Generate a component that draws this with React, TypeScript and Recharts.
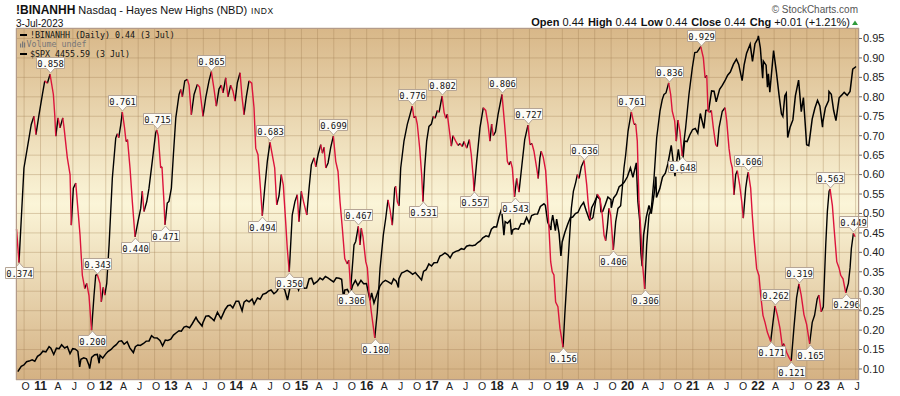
import React from "react";
import { ComposedChart, Line, XAxis, YAxis, CartesianGrid } from "recharts";

// !BINANHH swings: [decimal year, value]
const hayesPoints: [number, number][] = [
  [2010.632, 0.46], [2010.67, 0.374], [2010.746, 0.617], [2010.823, 0.694], [2010.858, 0.729], [2010.899, 0.75], [2010.93, 0.703], [2010.977, 0.754],
  [2011.029, 0.806], [2011.065, 0.841], [2011.105, 0.835], [2011.146, 0.858], [2011.197, 0.806], [2011.218, 0.754], [2011.234, 0.699], [2011.269, 0.746],
  [2011.299, 0.72], [2011.341, 0.746], [2011.361, 0.72], [2011.411, 0.643], [2011.453, 0.6], [2011.472, 0.47], [2011.503, 0.565], [2011.54, 0.578],
  [2011.606, 0.444], [2011.641, 0.341], [2011.678, 0.307], [2011.708, 0.32], [2011.743, 0.289], [2011.782, 0.2], [2011.82, 0.289], [2011.846, 0.341],
  [2011.87, 0.343], [2011.912, 0.32], [2011.932, 0.273], [2011.962, 0.31], [2011.985, 0.29], [2012.015, 0.32], [2012.051, 0.419], [2012.101, 0.591],
  [2012.153, 0.694], [2012.178, 0.705], [2012.199, 0.695], [2012.23, 0.728], [2012.254, 0.761], [2012.288, 0.72], [2012.311, 0.685], [2012.334, 0.69],
  [2012.372, 0.617], [2012.407, 0.531], [2012.449, 0.44], [2012.494, 0.479], [2012.536, 0.513], [2012.56, 0.557], [2012.586, 0.505], [2012.628, 0.53],
  [2012.663, 0.565], [2012.713, 0.634], [2012.765, 0.707], [2012.781, 0.715], [2012.805, 0.7], [2012.842, 0.617], [2012.862, 0.62], [2012.892, 0.531],
  [2012.908, 0.471], [2012.943, 0.527], [2012.969, 0.531], [2013.006, 0.565], [2013.037, 0.651], [2013.074, 0.746], [2013.124, 0.806], [2013.15, 0.819],
  [2013.174, 0.8], [2013.211, 0.841], [2013.251, 0.845], [2013.277, 0.83], [2013.312, 0.754], [2013.354, 0.806], [2013.404, 0.832], [2013.438, 0.825],
  [2013.491, 0.75], [2013.533, 0.798], [2013.583, 0.841], [2013.619, 0.865], [2013.66, 0.82], [2013.695, 0.776], [2013.736, 0.82], [2013.771, 0.83],
  [2013.798, 0.81], [2013.839, 0.849], [2013.874, 0.8], [2013.915, 0.83], [2013.95, 0.815], [2013.982, 0.789], [2014.017, 0.836], [2014.059, 0.862],
  [2014.089, 0.8], [2014.12, 0.754], [2014.155, 0.8], [2014.196, 0.841], [2014.238, 0.835], [2014.273, 0.772], [2014.299, 0.668], [2014.334, 0.651],
  [2014.375, 0.557], [2014.4, 0.494], [2014.437, 0.565], [2014.477, 0.634], [2014.518, 0.683], [2014.553, 0.651], [2014.59, 0.617], [2014.621, 0.522],
  [2014.656, 0.545], [2014.691, 0.6], [2014.722, 0.573], [2014.758, 0.479], [2014.783, 0.41], [2014.813, 0.35], [2014.859, 0.496], [2014.901, 0.531],
  [2014.936, 0.548], [2014.962, 0.479], [2014.999, 0.557], [2015.033, 0.53], [2015.082, 0.496], [2015.117, 0.565], [2015.152, 0.625], [2015.194, 0.643],
  [2015.22, 0.62], [2015.255, 0.651], [2015.296, 0.677], [2015.321, 0.655], [2015.347, 0.67], [2015.373, 0.617], [2015.408, 0.63], [2015.449, 0.67],
  [2015.489, 0.699], [2015.526, 0.634], [2015.561, 0.608], [2015.591, 0.531], [2015.627, 0.462], [2015.664, 0.384], [2015.703, 0.37], [2015.725, 0.38],
  [2015.755, 0.306], [2015.806, 0.419], [2015.832, 0.428], [2015.872, 0.467], [2015.898, 0.419], [2015.918, 0.462], [2015.944, 0.44], [2015.986, 0.376],
  [2016.011, 0.36], [2016.036, 0.298], [2016.072, 0.246], [2016.124, 0.18], [2016.163, 0.246], [2016.205, 0.358], [2016.255, 0.444], [2016.292, 0.487],
  [2016.327, 0.535], [2016.358, 0.51], [2016.393, 0.47], [2016.43, 0.565], [2016.445, 0.57], [2016.47, 0.53], [2016.496, 0.52], [2016.522, 0.617],
  [2016.572, 0.686], [2016.623, 0.729], [2016.664, 0.754], [2016.699, 0.776], [2016.725, 0.746], [2016.751, 0.75], [2016.776, 0.73], [2016.813, 0.668],
  [2016.843, 0.6], [2016.863, 0.531], [2016.889, 0.617], [2016.92, 0.686], [2016.955, 0.724], [2016.992, 0.73], [2017.023, 0.75], [2017.049, 0.745],
  [2017.084, 0.765], [2017.11, 0.76], [2017.156, 0.802], [2017.187, 0.76], [2017.213, 0.745], [2017.237, 0.755], [2017.263, 0.72], [2017.298, 0.673],
  [2017.324, 0.7], [2017.365, 0.686], [2017.401, 0.675], [2017.431, 0.68], [2017.466, 0.672], [2017.492, 0.685], [2017.534, 0.668], [2017.574, 0.69],
  [2017.604, 0.651], [2017.635, 0.59], [2017.646, 0.557], [2017.687, 0.634], [2017.737, 0.72], [2017.788, 0.772], [2017.825, 0.765], [2017.86, 0.73],
  [2017.89, 0.686], [2017.916, 0.73], [2017.941, 0.7], [2017.975, 0.71], [2018.014, 0.754], [2018.044, 0.78], [2018.075, 0.806], [2018.106, 0.746],
  [2018.132, 0.694], [2018.157, 0.634], [2018.182, 0.625], [2018.208, 0.634], [2018.233, 0.617], [2018.267, 0.543], [2018.3, 0.59], [2018.335, 0.555],
  [2018.386, 0.634], [2018.423, 0.69], [2018.473, 0.727], [2018.504, 0.677], [2018.534, 0.68], [2018.565, 0.66], [2018.606, 0.617], [2018.63, 0.59],
  [2018.656, 0.643], [2018.676, 0.66], [2018.707, 0.645], [2018.744, 0.61], [2018.768, 0.548], [2018.795, 0.462], [2018.821, 0.376], [2018.845, 0.35],
  [2018.871, 0.342], [2018.897, 0.272], [2018.932, 0.26], [2018.963, 0.205], [2019.011, 0.156], [2019.037, 0.238], [2019.068, 0.324], [2019.103, 0.419],
  [2019.138, 0.513], [2019.169, 0.557], [2019.205, 0.58], [2019.23, 0.6], [2019.256, 0.59], [2019.291, 0.62], [2019.333, 0.636], [2019.374, 0.573],
  [2019.394, 0.531], [2019.42, 0.488], [2019.444, 0.485], [2019.47, 0.49], [2019.511, 0.531], [2019.536, 0.55], [2019.577, 0.539], [2019.612, 0.496],
  [2019.639, 0.444], [2019.664, 0.43], [2019.689, 0.465], [2019.715, 0.513], [2019.741, 0.496], [2019.781, 0.406], [2019.818, 0.479], [2019.853, 0.513],
  [2019.894, 0.52], [2019.919, 0.565], [2019.945, 0.617], [2019.971, 0.651], [2020.007, 0.711], [2020.058, 0.761], [2020.099, 0.729], [2020.125, 0.73],
  [2020.149, 0.686], [2020.175, 0.531], [2020.201, 0.462], [2020.226, 0.376], [2020.263, 0.306], [2020.293, 0.419], [2020.328, 0.496], [2020.364, 0.513],
  [2020.405, 0.59], [2020.446, 0.694], [2020.497, 0.763], [2020.532, 0.793], [2020.558, 0.806], [2020.589, 0.81], [2020.63, 0.836], [2020.661, 0.806],
  [2020.685, 0.763], [2020.722, 0.738], [2020.747, 0.686], [2020.773, 0.74], [2020.803, 0.71], [2020.838, 0.648], [2020.89, 0.72], [2020.941, 0.806],
  [2020.993, 0.875], [2021.03, 0.914], [2021.065, 0.915], [2021.122, 0.929], [2021.162, 0.9], [2021.188, 0.849], [2021.214, 0.855], [2021.233, 0.763],
  [2021.259, 0.76], [2021.284, 0.765], [2021.315, 0.72], [2021.351, 0.677], [2021.376, 0.672], [2021.402, 0.72], [2021.452, 0.763], [2021.494, 0.772],
  [2021.52, 0.738], [2021.555, 0.668], [2021.581, 0.634], [2021.606, 0.617], [2021.632, 0.548], [2021.658, 0.6], [2021.682, 0.61], [2021.719, 0.573],
  [2021.75, 0.531], [2021.774, 0.488], [2021.811, 0.565], [2021.836, 0.595], [2021.851, 0.606], [2021.887, 0.565], [2021.912, 0.496], [2021.938, 0.436],
  [2021.979, 0.358], [2022.015, 0.34], [2022.041, 0.289], [2022.076, 0.238], [2022.107, 0.22], [2022.142, 0.195], [2022.194, 0.171], [2022.229, 0.22],
  [2022.26, 0.262], [2022.295, 0.24], [2022.336, 0.205], [2022.371, 0.16], [2022.397, 0.165], [2022.438, 0.143], [2022.474, 0.13], [2022.509, 0.121],
  [2022.55, 0.205], [2022.591, 0.283], [2022.627, 0.319], [2022.662, 0.29], [2022.704, 0.24], [2022.745, 0.215], [2022.791, 0.165], [2022.831, 0.22],
  [2022.867, 0.238], [2022.907, 0.28], [2022.933, 0.29], [2022.969, 0.247], [2023.001, 0.26], [2023.038, 0.419], [2023.063, 0.505], [2023.089, 0.557],
  [2023.104, 0.563], [2023.14, 0.52], [2023.166, 0.462], [2023.207, 0.376], [2023.242, 0.36], [2023.268, 0.341], [2023.303, 0.332], [2023.345, 0.296],
  [2023.385, 0.32], [2023.411, 0.36], [2023.431, 0.41], [2023.462, 0.449], [2023.488, 0.44],
];

// annotated swing highs / lows
const peakMarks: [number, number][] = [
  [2011.146, 0.858], [2011.87, 0.343], [2012.254, 0.761], [2012.781, 0.715], [2013.619, 0.865], [2014.518, 0.683], [2015.489, 0.699],
  [2015.872, 0.467], [2016.699, 0.776], [2017.156, 0.802], [2018.075, 0.806], [2018.473, 0.727], [2019.333, 0.636], [2020.058, 0.761],
  [2020.63, 0.836], [2021.122, 0.929], [2021.851, 0.606], [2022.26, 0.262], [2022.627, 0.319], [2023.104, 0.563], [2023.462, 0.449],
];
const troughMarks: [number, number][] = [
  [2010.67, 0.374], [2011.782, 0.2], [2012.449, 0.44], [2012.908, 0.471], [2014.4, 0.494], [2014.813, 0.35], [2015.755, 0.306],
  [2016.124, 0.18], [2016.863, 0.531], [2017.646, 0.557], [2018.267, 0.543], [2019.011, 0.156], [2019.781, 0.406], [2020.263, 0.306],
  [2020.838, 0.648], [2022.194, 0.171], [2022.509, 0.121], [2022.791, 0.165], [2023.345, 0.296],
];

// $SPX overlay (own hidden scale)
const spxCloses: [string, number][] = [
  ["2010-08-27", 1065], ["2010-09-15", 1125], ["2010-09-30", 1141], ["2010-10-15", 1176], ["2010-10-29", 1183], ["2010-11-15", 1197], ["2010-11-30", 1181], ["2010-12-15", 1236], ["2010-12-31", 1258],
  ["2011-01-14", 1293], ["2011-01-31", 1286], ["2011-02-18", 1343], ["2011-02-28", 1327], ["2011-03-16", 1257], ["2011-03-31", 1326], ["2011-04-15", 1320], ["2011-04-29", 1364],
  ["2011-05-16", 1329], ["2011-05-31", 1345], ["2011-06-15", 1265], ["2011-06-30", 1321], ["2011-07-15", 1316], ["2011-07-29", 1292], ["2011-08-08", 1119], ["2011-08-15", 1204],
  ["2011-08-31", 1219], ["2011-09-15", 1209], ["2011-09-30", 1131], ["2011-10-03", 1099], ["2011-10-14", 1224], ["2011-10-31", 1253], ["2011-11-15", 1257], ["2011-11-25", 1159],
  ["2011-11-30", 1247], ["2011-12-15", 1216], ["2011-12-30", 1258],
  ["2012-01-13", 1289], ["2012-01-31", 1312], ["2012-02-15", 1344], ["2012-02-29", 1366], ["2012-03-15", 1402], ["2012-03-30", 1408], ["2012-04-13", 1370], ["2012-04-30", 1398],
  ["2012-05-15", 1330], ["2012-06-04", 1278], ["2012-06-15", 1343], ["2012-06-29", 1362], ["2012-07-13", 1357], ["2012-07-31", 1379], ["2012-08-15", 1405], ["2012-08-31", 1407],
  ["2012-09-14", 1465], ["2012-09-28", 1441], ["2012-10-15", 1440], ["2012-10-31", 1412], ["2012-11-15", 1353], ["2012-11-30", 1416], ["2012-12-14", 1413], ["2012-12-31", 1426],
  ["2013-01-15", 1472], ["2013-01-31", 1498], ["2013-02-15", 1520], ["2013-02-28", 1515], ["2013-03-15", 1561], ["2013-03-28", 1569], ["2013-04-15", 1553], ["2013-04-30", 1598],
  ["2013-05-21", 1669], ["2013-05-31", 1631], ["2013-06-24", 1573], ["2013-06-28", 1606], ["2013-07-15", 1683], ["2013-07-31", 1686], ["2013-08-15", 1661], ["2013-08-30", 1633],
  ["2013-09-18", 1725], ["2013-09-30", 1682], ["2013-10-08", 1656], ["2013-10-31", 1757], ["2013-11-15", 1798], ["2013-11-29", 1806], ["2013-12-13", 1775], ["2013-12-31", 1848],
  ["2014-01-15", 1848], ["2014-02-03", 1742], ["2014-02-14", 1838], ["2014-02-28", 1859], ["2014-03-14", 1841], ["2014-03-31", 1872], ["2014-04-11", 1815], ["2014-04-30", 1884],
  ["2014-05-15", 1870], ["2014-05-30", 1924], ["2014-06-16", 1937], ["2014-06-30", 1960], ["2014-07-15", 1973], ["2014-07-31", 1931], ["2014-08-15", 1955], ["2014-08-29", 2003],
  ["2014-09-18", 2011], ["2014-09-30", 1972], ["2014-10-15", 1862], ["2014-10-31", 2018], ["2014-11-14", 2039], ["2014-11-28", 2068], ["2014-12-16", 1972], ["2014-12-31", 2059],
  ["2015-01-15", 1992], ["2015-01-30", 1995], ["2015-02-13", 2096], ["2015-02-27", 2105], ["2015-03-11", 2040], ["2015-03-31", 2068], ["2015-04-15", 2106], ["2015-04-30", 2086],
  ["2015-05-15", 2123], ["2015-05-29", 2107], ["2015-06-15", 2084], ["2015-06-30", 2063], ["2015-07-15", 2108], ["2015-07-31", 2104], ["2015-08-14", 2092], ["2015-08-25", 1868],
  ["2015-08-31", 1972], ["2015-09-15", 1979], ["2015-09-30", 1920], ["2015-10-15", 2024], ["2015-10-30", 2079], ["2015-11-13", 2023], ["2015-11-30", 2080], ["2015-12-15", 2043],
  ["2015-12-31", 2044],
  ["2016-01-20", 1859], ["2016-01-29", 1940], ["2016-02-11", 1829], ["2016-02-29", 1932], ["2016-03-15", 2016], ["2016-03-31", 2060], ["2016-04-15", 2081], ["2016-04-29", 2065],
  ["2016-05-19", 2040], ["2016-05-31", 2097], ["2016-06-15", 2072], ["2016-06-27", 2001], ["2016-06-30", 2099], ["2016-07-15", 2162], ["2016-07-29", 2174], ["2016-08-15", 2191],
  ["2016-08-31", 2171], ["2016-09-15", 2147], ["2016-09-30", 2168], ["2016-10-14", 2133], ["2016-11-04", 2085], ["2016-11-15", 2180], ["2016-11-30", 2199], ["2016-12-15", 2262],
  ["2016-12-30", 2239],
  ["2017-01-13", 2275], ["2017-01-31", 2279], ["2017-02-15", 2350], ["2017-02-28", 2364], ["2017-03-15", 2385], ["2017-03-31", 2363], ["2017-04-13", 2329], ["2017-04-28", 2384],
  ["2017-05-15", 2402], ["2017-05-31", 2412], ["2017-06-15", 2432], ["2017-06-30", 2423], ["2017-07-14", 2459], ["2017-07-31", 2470], ["2017-08-15", 2464], ["2017-08-31", 2472],
  ["2017-09-15", 2500], ["2017-09-29", 2519], ["2017-10-13", 2553], ["2017-10-31", 2575], ["2017-11-15", 2565], ["2017-11-30", 2648], ["2017-12-15", 2676], ["2017-12-29", 2674],
  ["2018-01-12", 2786], ["2018-01-26", 2873], ["2018-02-08", 2581], ["2018-02-15", 2732], ["2018-02-28", 2714], ["2018-03-15", 2748], ["2018-03-23", 2588], ["2018-03-30", 2641],
  ["2018-04-13", 2656], ["2018-04-30", 2648], ["2018-05-15", 2711], ["2018-05-31", 2705], ["2018-06-15", 2779], ["2018-06-29", 2718], ["2018-07-13", 2801], ["2018-07-31", 2816],
  ["2018-08-15", 2818], ["2018-08-31", 2902], ["2018-09-20", 2931], ["2018-09-28", 2914], ["2018-10-11", 2728], ["2018-10-29", 2641], ["2018-10-31", 2712], ["2018-11-08", 2806],
  ["2018-11-23", 2633], ["2018-11-30", 2760], ["2018-12-14", 2600], ["2018-12-24", 2351], ["2018-12-31", 2507],
  ["2019-01-15", 2611], ["2019-01-31", 2704], ["2019-02-15", 2776], ["2019-02-28", 2784], ["2019-03-15", 2822], ["2019-03-29", 2834], ["2019-04-15", 2906], ["2019-04-30", 2946],
  ["2019-05-15", 2850], ["2019-06-03", 2744], ["2019-06-14", 2887], ["2019-06-28", 2942], ["2019-07-15", 3014], ["2019-07-31", 2980], ["2019-08-05", 2844], ["2019-08-15", 2848],
  ["2019-08-30", 2926], ["2019-09-13", 3007], ["2019-09-30", 2977], ["2019-10-02", 2887], ["2019-10-15", 2996], ["2019-10-31", 3038], ["2019-11-15", 3120], ["2019-11-29", 3141],
  ["2019-12-13", 3169], ["2019-12-31", 3231],
  ["2020-01-17", 3330], ["2020-01-31", 3226], ["2020-02-19", 3386], ["2020-02-28", 2954], ["2020-03-09", 2747], ["2020-03-16", 2386], ["2020-03-23", 2237], ["2020-03-31", 2585],
  ["2020-04-15", 2783], ["2020-04-30", 2912], ["2020-05-13", 2820], ["2020-05-29", 3044], ["2020-06-08", 3232], ["2020-06-11", 3002], ["2020-06-30", 3100], ["2020-07-15", 3227],
  ["2020-07-31", 3271], ["2020-08-14", 3373], ["2020-09-02", 3580], ["2020-09-23", 3237], ["2020-09-30", 3363], ["2020-10-12", 3535], ["2020-10-30", 3270], ["2020-11-16", 3627],
  ["2020-11-30", 3622], ["2020-12-15", 3695], ["2020-12-31", 3756],
  ["2021-01-15", 3768], ["2021-01-29", 3714], ["2021-02-12", 3934], ["2021-03-04", 3768], ["2021-03-15", 3969], ["2021-03-31", 3973], ["2021-04-16", 4185], ["2021-04-30", 4181],
  ["2021-05-12", 4063], ["2021-05-31", 4204], ["2021-06-15", 4246], ["2021-06-30", 4298], ["2021-07-15", 4360], ["2021-07-30", 4395], ["2021-08-16", 4480], ["2021-09-02", 4537],
  ["2021-09-15", 4480], ["2021-10-04", 4300], ["2021-10-15", 4471], ["2021-10-29", 4605], ["2021-11-18", 4705], ["2021-12-01", 4513], ["2021-12-15", 4709], ["2021-12-31", 4766],
  ["2022-01-03", 4796], ["2022-01-14", 4662], ["2022-01-27", 4326], ["2022-01-31", 4516], ["2022-02-15", 4471], ["2022-02-23", 4225], ["2022-02-28", 4374], ["2022-03-08", 4170],
  ["2022-03-29", 4632], ["2022-04-14", 4392], ["2022-04-29", 4132], ["2022-05-12", 3930], ["2022-05-20", 3901], ["2022-05-31", 4132], ["2022-06-08", 4160], ["2022-06-16", 3667],
  ["2022-06-30", 3785], ["2022-07-15", 3863], ["2022-07-29", 4130], ["2022-08-16", 4305], ["2022-08-31", 3955], ["2022-09-12", 4110], ["2022-09-30", 3586], ["2022-10-12", 3577],
  ["2022-10-31", 3872], ["2022-11-15", 3992], ["2022-11-30", 4080], ["2022-12-13", 4019], ["2022-12-28", 3783], ["2022-12-30", 3840],
  ["2023-01-13", 3999], ["2023-01-31", 4077], ["2023-02-02", 4179], ["2023-02-15", 4148], ["2023-02-28", 3970], ["2023-03-13", 3856], ["2023-03-31", 4109], ["2023-04-14", 4138],
  ["2023-04-28", 4169], ["2023-05-15", 4136], ["2023-05-31", 4180], ["2023-06-15", 4426], ["2023-06-30", 4450], ["2023-07-03", 4456],
];

const valueTicks = [0.1, 0.15, 0.2, 0.25, 0.3, 0.35, 0.4, 0.45, 0.5, 0.55, 0.6, 0.65, 0.7, 0.75, 0.8, 0.85, 0.9, 0.95];
const quarterLetters = ["J", "A", "J", "O"];

const W = 900;
const H = 396;
const RED = "#dc143c";
const FONT = "'Liberation Sans', Arial, sans-serif";
const MONO = "'DejaVu Sans Mono', monospace";

function toYear(d: string) {
  const [y, m, day] = d.split("-").map(Number);
  const start = Date.UTC(y, 0, 1);
  const end = Date.UTC(y + 1, 0, 1);
  return y + (Date.UTC(y, m - 1, day) - start) / (end - start);
}

const spxData = spxCloses.map(([d, s]) => ({ t: toYear(d), s }));

// rising stretches are drawn black, falling stretches red
function splitByDirection(points: [number, number][]) {
  const up: { t: number; v: number | null }[] = [];
  const down: { t: number; v: number | null }[] = [];
  let prev = 0;
  for (let i = 1; i < points.length; i++) {
    const [t0, v0] = points[i - 1];
    const [t1, v1] = points[i];
    const dir = v1 > v0 ? 1 : v1 < v0 ? -1 : prev || 1;
    const arr = dir > 0 ? up : down;
    if (dir !== prev) {
      if (arr.length) arr.push({ t: t0, v: null });
      arr.push({ t: t0, v: v0 });
    }
    arr.push({ t: t1, v: v1 });
    prev = dir;
  }
  return { up, down };
}
const { up, down } = splitByDirection(hayesPoints);
const peakData = peakMarks.map(([t, v]) => ({ t, v }));
const troughData = troughMarks.map(([t, v]) => ({ t, v }));

const quarterTicks: number[] = [];
for (let y = 2010; y <= 2023; y++) {
  for (let q = 0; q < 4; q++) {
    const t = toYear(`${y}-${String(q * 3 + 1).padStart(2, "0")}-01`);
    if (t > 2010.63 && t < 2023.54) quarterTicks.push(t);
  }
}

const QuarterTick = (props: any) => {
  const { x, y, payload } = props;
  const t = payload.value;
  const yr = Math.floor(t + 1e-6);
  const q = Math.round((t - yr) * 4) % 4;
  const isYear = q === 0;
  return (
    <text x={x + (isYear ? 0 : 1.5)} y={y + 10} textAnchor="middle" fontFamily={FONT}
      fontSize={isYear ? 12 : 10.5} fontWeight={isYear ? "bold" : "normal"} fill="#222">
      {isYear ? String(yr).slice(2) : quarterLetters[q]}
    </text>
  );
};

function MarkLabel({ x, y, value, below }: { x: number; y: number; value: number; below: boolean }) {
  const w = 28;
  const h = 11;
  const cx = Math.round(x) + 0.5;
  const l = cx - w / 2;
  const r = cx + w / 2;
  let d: string;
  let ty: number;
  if (below) {
    const top = Math.round(y) + 5.5;
    d = `M${l},${top} L${cx - 4},${top} L${cx},${top - 4.5} L${cx + 4},${top} L${r},${top} L${r},${top + h} L${l},${top + h} Z`;
    ty = top + h - 2;
  } else {
    const bot = Math.round(y) - 5.5;
    d = `M${l},${bot - h} L${r},${bot - h} L${r},${bot} L${cx + 4},${bot} L${cx},${bot + 4.5} L${cx - 4},${bot} L${l},${bot} Z`;
    ty = bot - 2;
  }
  return (
    <g>
      <path d={d} fill="#fcfbf6" stroke="#b5a596" strokeWidth={1} />
      <text x={cx} y={ty} textAnchor="middle" fontFamily={MONO} fontSize={8.8} fill="#111">
        {value.toFixed(3)}
      </text>
    </g>
  );
}

export default function App() {
  return (
    <div style={{ position: "absolute", left: 0, top: 0, width: W, height: H, background: "#fff" }}>
      <ComposedChart width={W} height={H} margin={{ top: 28, right: 0, bottom: 0, left: 16 }}>
        <defs>
          <linearGradient id="plotBg" x1="0" y1="0" x2="0" y2="1">
            <stop offset="0%" stopColor="#d8b788" />
            <stop offset="50%" stopColor="#fbf5d8" />
            <stop offset="100%" stopColor="#d4b183" />
          </linearGradient>
        </defs>
        <CartesianGrid yAxisId="h" fill="url(#plotBg)" fillOpacity={1} stroke="#a07e52" strokeOpacity={0.35} />
        <XAxis type="number" dataKey="t" domain={[2010.624, 2023.548]} ticks={quarterTicks} interval={0}
          tick={<QuarterTick />} tickLine={false} axisLine={false} tickSize={0} tickMargin={0} height={16} />
        <YAxis yAxisId="h" orientation="right" domain={[0.0717, 0.977]} ticks={valueTicks} interval={0}
          width={41} tickSize={3} tickMargin={1} axisLine={false} tickLine={{ stroke: "#666" }}
          tick={{ fontSize: 11, fill: "#222", fontFamily: FONT }} tickFormatter={(v: number) => v.toFixed(2)} />
        <YAxis yAxisId="spx" hide domain={[973, 4884]} />
        <Line yAxisId="spx" data={spxData} dataKey="s" stroke="#000" strokeWidth={1.5}
          dot={false} activeDot={false} isAnimationActive={false} />
        <Line yAxisId="h" data={up} dataKey="v" stroke="#000" strokeWidth={1.4}
          dot={false} activeDot={false} isAnimationActive={false} />
        <Line yAxisId="h" data={down} dataKey="v" stroke={RED} strokeWidth={1.4}
          dot={false} activeDot={false} isAnimationActive={false} />
        <Line yAxisId="h" data={peakData} dataKey="v" stroke="none" activeDot={false} isAnimationActive={false}
          dot={(p: any) => <MarkLabel key={`p${p.index}`} x={p.cx} y={p.cy} value={p.payload.v} below={false} />} />
        <Line yAxisId="h" data={troughData} dataKey="v" stroke="none" activeDot={false} isAnimationActive={false}
          dot={(p: any) => <MarkLabel key={`t${p.index}`} x={p.cx} y={p.cy} value={p.payload.v} below />} />
      </ComposedChart>
      <svg width={W} height={H} style={{ position: "absolute", left: 0, top: 0, pointerEvents: "none" }}>
        <rect x={16.5} y={28.5} width={842} height={351} fill="none" stroke="#b39b8b" />
        <text x={16} y={14} fontFamily={FONT} fontSize={12} fontWeight="bold" fill="#111">
          !BINANHH
          <tspan fontWeight="normal" fontSize={11} dx={3}>Nasdaq - Hayes New Highs (NBD)</tspan>
          <tspan fontWeight="normal" fontSize={8.5} dx={4} letterSpacing={0.6}>INDX</tspan>
        </text>
        <text x={16} y={27} fontFamily={FONT} fontSize={10} fill="#111">3-Jul-2023</text>
        <text x={858} y={13} textAnchor="end" fontFamily={FONT} fontSize={10} fill="#555">© StockCharts.com</text>
        <text x={850} y={26} textAnchor="end" fontFamily={FONT} fontSize={11} fill="#111">
          <tspan fontWeight="bold">Open</tspan> 0.44
          <tspan fontWeight="bold" dx={4}>High</tspan> 0.44
          <tspan fontWeight="bold" dx={4}>Low</tspan> 0.44
          <tspan fontWeight="bold" dx={4}>Close</tspan> 0.44
          <tspan fontWeight="bold" dx={4}>Chg</tspan> +0.01 (+1.21%)
        </text>
        <path d="M852,25 L855,20.5 L858,25 Z" fill="#2e9a3a" />
        <rect x={20} y={34} width={7} height={2} fill="#000" />
        <text x={30} y={37.5} fontFamily={MONO} fontSize={8.3} fill="#111">!BINANHH (Daily) 0.44 (3 Jul)</text>
        <rect x={20} y={43.5} width={1.2} height={4} fill="#777" />
        <rect x={22} y={41.5} width={1.2} height={6} fill="#777" />
        <rect x={24} y={42.5} width={1.2} height={5} fill="#777" />
        <text x={26.5} y={47.2} fontFamily={MONO} fontSize={8.3} fill="#777">Volume undef</text>
        <rect x={20} y={53} width={7} height={2} fill="#000" />
        <text x={30} y={57} fontFamily={MONO} fontSize={8.3} fill="#111">$SPX 4455.59 (3 Jul)</text>
      </svg>
    </div>
  );
}
